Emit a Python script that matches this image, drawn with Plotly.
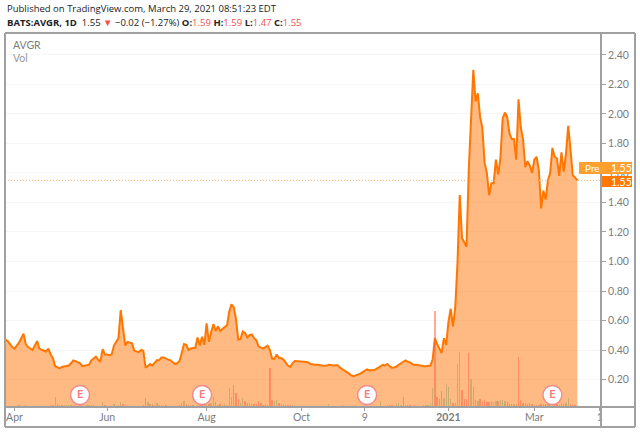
import plotly.graph_objects as go

# daily close, session by session
close = [
    .47, .46, .44, .42, .41, .43, .45, .48, .51, .44, .42, .41, .40, .43, .46, .41, .40, .395, .39, .41,
    .37, .345, .29, .28, .275, .285, .29, .29, .295, .31, .33, .325, .315, .31, .29, .295, .30, .30, .33, .345,
    .355, .335, .32, .405, .37, .37, .365, .37, .43, .455, .48, .67, .56, .43, .455, .45, .445, .395, .39, .385,
    .40, .395, .28, .29, .305, .295, .31, .33, .33, .35, .35, .34, .335, .33, .315, .305, .31, .325, .38, .44,
    .435, .40, .41, .415, .415, .485, .43, .49, .435, .58, .455, .52, .575, .53, .56, .53, .545, .555, .565, .66,
    .71, .69, .61, .47, .475, .525, .515, .485, .50, .505, .48, .465, .425, .415, .41, .42, .43, .40, .34, .34,
    .37, .345, .345, .335, .315, .295, .285, .31, .325, .325, .325, .32, .32, .318, .315, .305, .30, .30, .30, .295,
    .295, .293, .293, .30, .295, .295, .297, .297, .28, .268, .26, .25, .24, .228, .223, .228, .232, .24, .25, .26,
    .268, .262, .262, .265, .27, .28, .29, .30, .295, .305, .29, .28, .282, .288, .30, .31, .325, .33, .32, .316,
    .305, .298, .30, .295, .29, .29, .29, .29, .295, .335, .48, .44, .41, .38, .48, .435, .59, .68, .56, .685,
    .99, 1.45, 1.16, 1.125, 1.10, 1.62, 1.92, 2.30, 2.085, 2.14, 1.98, 1.905, 1.67, 1.60, 1.45, 1.53, 1.53, 1.69, 1.59, 1.70,
    1.97, 2.01, 1.98, 1.87, 1.83, 1.83, 1.69, 2.10, 1.91, 1.83, 1.64, 1.68, 1.65, 1.60, 1.69, 1.71, 1.62, 1.36, 1.48, 1.42,
    1.55, 1.60, 1.77, 1.71, 1.70, 1.58, 1.74, 1.61, 1.73, 1.92, 1.76, 1.585, 1.57, 1.55,
]

# volume in millions of shares
volume = [
    .4, .3, .3, .2, .3, .3, .4, .3, .3, .5, .3, .2, .3, .3, .2, .3, .3, .2, .3, .3,
    .4, .5, 2.5, .8, .5, .5, .4, .4, .5, .4, .5, .4, .3, .4, .3, .3, .4, .5, .6, .6,
    .3, .3, .3, 1.2, .6, .3, .3, .3, .7, .5, .4, 1.3, .7, .4, .3, .3, .2, .3, .3, .3,
    .3, .4, 2.3, 1.2, .8, .7, .6, .9, .5, .5, .6, .4, .3, .3, .3, .3, .3, .6, 1.0, 1.6,
    .7, .6, .4, .4, .3, .4, .4, .5, .5, 1.0, .8, 1.0, 2.5, 1.2, .6, .7, .5, .8, .6, 4.8,
    2.5, 5.5, 3.5, 2.0, .9, 2.2, 1.5, 1.0, .9, .8, .8, .7, 1.5, .9, .6, .7, .6, 9.8, 1.7, 1.5,
    1.7, .9, .7, .5, .5, .6, .5, .4, .4, .3, .2, .2, .2, .3, .2, .2, .2, .3, .2, .2,
    .2, .2, .3, .8, .3, .2, .3, .3, .3, .4, .3, .2, .3, .2, .3, .4, .2, .3, .2, .2,
    .3, .3, .3, .3, .3, .3, 1.5, .3, .3, .4, .4, .4, .3, .8, 1.0, .5, 2.6, .6, .4, .4,
    .3, .4, .3, .3, .3, .5, .5, .4, .7, 4.7, 24.0, 2.5, 2.0, 4.0, 2.2, 5.8, 5.0, 2.0, 1.0, 1.0,
    10.8, 13.8, 4.2, 2.0, 2.0, 13.5, 7.0, 5.0, 1.7, 1.5, 2.0, 1.3, 1.7, 1.2, 1.2, 1.5, 1.2, 1.5, 1.5, 1.7,
    1.7, 1.5, 1.2, .8, .8, .7, .8, 12.5, 1.7, 1.0, .9, .8, .9, .7, .5, .6, .5, .7, .7, .8,
    .8, .8, .6, .7, .8, .6, .7, .7, 1.0, 2.3, .8, .6, .5, .4,
]

# sessions whose volume bar is green even though the close fell, and the other way round
up_vol_days = [22, 43, 79, 92, 99, 100, 143, 166, 189, 195, 200, 201, 206, 207, 249]
down_vol_days = [62, 101, 176, 190, 205, 227]

tick_days = [4, 45, 89, 131, 159, 196, 234, 263]
tick_labels = ["Apr", "Jun", "Aug", "Oct", "9", "<b>2021</b>", "Mar", "1"]
price_ticks = [.2, .4, .6, .8, 1.0, 1.2, 1.4, 1.6, 1.8, 2.0, 2.2, 2.4]
earnings_days = [33, 87, 160, 242]
last_price = 1.55

W, H = 640, 433
LEFT, RIGHT, TOP, BOTTOM = 5, 601, 33, 407

ORANGE = "#ff7600"
GREY = "#7b7b7b"
FRAME = "#a0a0a0"


def px(x):
    return (x - LEFT) / (RIGHT - LEFT)


def py(y):
    return (BOTTOM - y) / (BOTTOM - TOP)


def rule(x0, y0, x1, y1):
    return dict(type="line", xref="paper", yref="paper", x0=px(x0), x1=px(x1), y0=py(y0), y1=py(y1),
                line=dict(color=FRAME, width=2))


def vol_color(i):
    if i in up_vol_days:
        return "rgba(164,157,92,0.55)"
    if i in down_vol_days or (i > 0 and close[i] < close[i - 1]):
        return "rgba(255,100,70,0.55)"
    return "rgba(164,157,92,0.55)"


days = list(range(len(close)))

fig = go.Figure()
fig.add_trace(go.Scatter(
    x=days, y=close, mode="lines", fill="tozeroy",
    line=dict(color=ORANGE, width=2),
    fillcolor="rgba(255,118,10,0.5)",
    yaxis="y",
))
fig.add_trace(go.Bar(
    x=days, y=volume, width=0.6,
    marker=dict(color=[vol_color(i) for i in days], line_width=0),
    yaxis="y2",
))
fig.add_trace(go.Scatter(
    x=earnings_days, y=[3.0] * len(earnings_days), mode="markers+text",
    text=["<b>E</b>"] * len(earnings_days), textposition="middle center",
    textfont=dict(family="Lato", size=11, color="#f77c80"),
    marker=dict(size=19, color="white", line=dict(color="#f48a8c", width=1.5)),
    yaxis="y2",
))

shapes = [
    # outer frame, price axis and time axis rules
    rule(5, 33, 635, 33),
    rule(5, 427, 635, 427),
    rule(5, 33, 5, 427),
    rule(635, 33, 635, 427),
    rule(601, 33, 601, 427),
    rule(5, 407, 635, 407),
    # last price line
    dict(type="line", xref="paper", yref="y", x0=0, x1=1, y0=last_price, y1=last_price,
         line=dict(color="#ffb066", width=1, dash="1px,2px")),
    # price tags
    dict(type="rect", xref="paper", yref="paper", x0=px(579), x1=px(632), y0=py(174), y1=py(162),
         fillcolor="#ffa02e", line_width=0),
    dict(type="rect", xref="paper", yref="paper", x0=px(602), x1=px(632), y0=py(187), y1=py(176),
         fillcolor=ORANGE, line_width=0),
]

header_font = dict(family="Open Sans", size=9.5, color="#222222")
annotations = [
    dict(x=px(5), y=py(9), text="Published on TradingView.com, March 29, 2021 08:51:23 EDT", font=header_font),
    dict(x=px(5), y=py(22),
         text="<b>BATS:AVGR, 1D</b>  1.55 <span style='color:#ef5350'>▼</span> −0.02 (−1.27%) "
              "<b>O:</b><span style='color:#ef5350'>1.59</span> <b>H:</b><span style='color:#ef5350'>1.59</span> "
              "<b>L:</b><span style='color:#ef5350'>1.47</span> <b>C:</b><span style='color:#ef5350'>1.55</span>",
         font=header_font),
    dict(x=px(11), y=py(45), text="AVGR", font=dict(family="Lato", size=10.5, color=GREY)),
    dict(x=px(11), y=py(58), text="Vol", font=dict(family="Lato", size=10.5, color="#999999")),
    dict(x=px(583), y=py(168), text="Pre", font=dict(family="Lato", size=10, color="white")),
    dict(x=px(609), y=py(168), text="1.55", font=dict(family="Lato", size=10.5, color="white")),
    dict(x=px(609), y=py(181.5), text="1.55", font=dict(family="Lato", size=10.5, color="white")),
]
for a in annotations:
    a.update(xref="paper", yref="paper", xanchor="left", yanchor="middle", showarrow=False)

fig.update_layout(
    width=W, height=H,
    margin=dict(l=LEFT, r=W - RIGHT, t=TOP, b=H - BOTTOM),
    paper_bgcolor="white", plot_bgcolor="white",
    showlegend=False,
    bargap=0,
    shapes=shapes,
    annotations=annotations,
    xaxis=dict(
        range=[-0.2, 263.5], tickmode="array", tickvals=tick_days, ticktext=tick_labels,
        ticks="outside", ticklen=3, tickcolor=FRAME, showgrid=False, zeroline=False,
        ticklabelstandoff=-3,
        tickfont=dict(family="Lato", size=10.5, color=GREY),
    ),
    yaxis=dict(
        range=[0.0136, 2.549], side="right", tickmode="array", tickvals=price_ticks,
        ticktext=[f"{p:.2f}" for p in price_ticks],
        ticks="outside", ticklen=4, tickcolor=FRAME,
        gridcolor="#f6f6f6", gridwidth=1, zeroline=False,
        tickfont=dict(family="Lato", size=10.5, color=GREY),
    ),
    yaxis2=dict(range=[0, 93.5], overlaying="y", side="right", visible=False),
)

# the page's default body margin would push everything 8px off
fig.write_html("out.html", config=dict(displayModeBar=False),
               post_script="document.body.style.margin='0';")
